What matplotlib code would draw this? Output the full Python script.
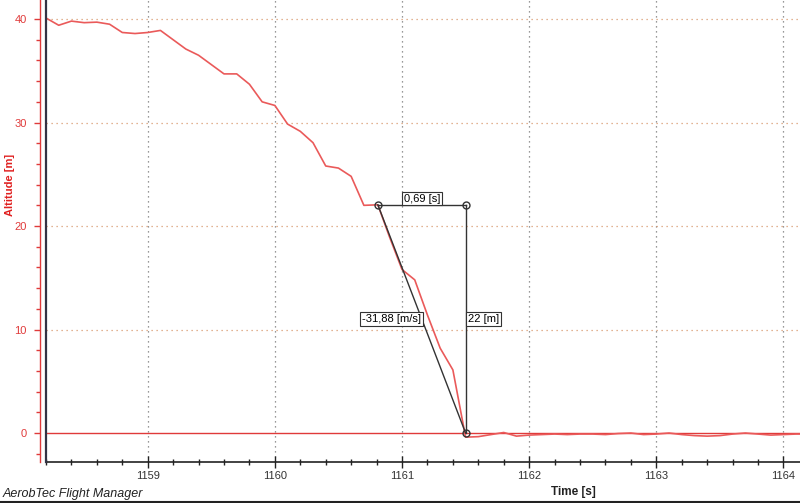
import matplotlib
matplotlib.use("Agg")
import matplotlib.pyplot as plt
from matplotlib.ticker import MultipleLocator, FixedLocator

plt.rcParams['font.family'] = ['Liberation Sans', 'DejaVu Sans']

time_s = [1158.2, 1158.3, 1158.4, 1158.5, 1158.6, 1158.7, 1158.8, 1158.9,
          1159.0, 1159.1, 1159.2, 1159.3, 1159.4, 1159.5, 1159.6, 1159.7,
          1159.8, 1159.9, 1160.0, 1160.1, 1160.2, 1160.3, 1160.4, 1160.5,
          1160.6, 1160.7, 1160.81, 1160.9, 1161.0, 1161.1, 1161.2, 1161.3,
          1161.4, 1161.5, 1161.6, 1161.7, 1161.8, 1161.9, 1162.0, 1162.1,
          1162.2, 1162.3, 1162.4, 1162.5, 1162.6, 1162.7, 1162.8, 1162.9,
          1163.0, 1163.1, 1163.2, 1163.3, 1163.4, 1163.5, 1163.6, 1163.7,
          1163.8, 1163.9, 1164.0, 1164.1, 1164.2]
altitude_m = [40.1, 39.4, 39.8, 39.65, 39.7, 39.5, 38.7, 38.6,
              38.7, 38.9, 38.0, 37.1, 36.5, 35.6, 34.7, 34.7,
              33.7, 32.0, 31.65, 29.85, 29.15, 28.05, 25.8, 25.6,
              24.8, 22.0, 22.05, 19.0, 15.8, 14.8, 11.4, 8.2,
              6.1, -0.4, -0.35, -0.15, 0.05, -0.3, -0.2, -0.15,
              -0.1, -0.15, -0.1, -0.1, -0.15, -0.05, 0.0, -0.15,
              -0.1, 0.0, -0.15, -0.25, -0.3, -0.25, -0.1, 0.0,
              -0.1, -0.2, -0.15, -0.1, -0.1]

# measurement annotation points
meas_t = [1160.81, 1161.5]
meas_alt = [22.05, 0.0]
label_dt = "0,69 [s]"
label_rate = "-31,88 [m/s]"
label_dh = "22 [m]"

x_ticks = [1159, 1160, 1161, 1162, 1163, 1164]
y_ticks = [0, 10, 20, 30, 40]

W, H = 800, 503
fig = plt.figure(figsize=(W / 100, H / 100), dpi=100)
ax = fig.add_axes([46 / W, (H - 462) / H, (800 - 46) / W, 462 / H])
ax.set_xlim(1158.2, 1164.13)
ax.set_ylim(-2.8, 41.84)

red = '#e03a3a'
ax.axhline(0, color='#e03a3a', lw=1.0, zorder=2)
ax.plot(time_s, altitude_m, color='#ea5a5a', lw=1.2, zorder=3)

# grid
for xt in x_ticks:
    ax.axvline(xt, color='#777777', lw=0.9, ls=(0, (1, 3)), zorder=1)
for yt in y_ticks:
    if yt != 0:
        ax.axhline(yt, color='#d99a70', lw=0.9, ls=(0, (1, 3)), zorder=1)

# measurement lines
t0, t1 = meas_t
a0, a1 = meas_alt
ax.plot([t0, t1], [a0, a0], color='#333333', lw=1.0, zorder=4)
ax.plot([t1, t1], [a0, a1], color='#333333', lw=1.0, zorder=4)
ax.plot([t0, t1], [a0, a1], color='#333333', lw=1.0, zorder=4)
ax.plot([t0, t1, t1], [a0, a0, a1], 'o', ms=5, mfc='none', mec='#333333',
        mew=1.0, zorder=5)

bbox = dict(boxstyle='square,pad=0.15', fc='white', ec='#333333', lw=0.8)
ax.text((t0 + t1) / 2, a0 + 0.1, label_dt, ha='center', va='bottom',
        fontsize=8, bbox=bbox, zorder=6)
ax.text((t0 + t1) / 2 - 0.005, (a0 + a1) / 2, label_rate, ha='right', va='center',
        fontsize=8, bbox=bbox, zorder=6)
ax.text(t1 + 0.02, (a0 + a1) / 2, label_dh, ha='left', va='center',
        fontsize=8, bbox=bbox, zorder=6)

# axes styling
ax.spines['top'].set_visible(False)
ax.spines['right'].set_visible(False)
ax.spines['left'].set_position(('outward', 4))
ax.spines['left'].set_color(red)
ax.spines['left'].set_linewidth(1.0)
ax.spines['bottom'].set_color('#222222')
ax.spines['bottom'].set_linewidth(1.2)
ax.axvline(1158.2, color='#333344', lw=1.6, zorder=6, clip_on=False)

ax.xaxis.set_major_locator(FixedLocator(x_ticks))
ax.xaxis.set_minor_locator(MultipleLocator(0.2))
ax.yaxis.set_major_locator(FixedLocator(y_ticks))
ax.yaxis.set_minor_locator(MultipleLocator(2))
ax.set_xticklabels([str(v) for v in x_ticks])
ax.set_yticklabels([str(v) for v in y_ticks])

ax.tick_params(axis='x', which='major', direction='inout', length=9, width=1.0,
               color='#222222', labelsize=8, labelcolor='#333333', pad=2)
ax.tick_params(axis='x', which='minor', direction='inout', length=5, width=1.0,
               color='#222222')
ax.tick_params(axis='y', which='major', direction='out', length=4, width=1.0,
               color=red, labelsize=8, labelcolor=red, pad=6)
ax.tick_params(axis='y', which='minor', direction='out', length=3, width=1.0,
               color=red)

fig.text(10 / W, 1 - 185 / H, 'Altitude [m]', rotation=90, ha='center',
         va='center', color='#e02020', fontsize=8, fontweight='bold')
fig.text(573 / W, 1 - 492 / H, 'Time [s]', ha='center', va='center',
         color='#222222', fontsize=8.5, fontweight='bold')
fig.text(3 / W, 1 - 494 / H, 'AerobTec Flight Manager', ha='left', va='center',
         color='#222222', fontsize=9, style='italic')
fig.add_artist(plt.Line2D([0, 1], [1.5 / H, 1.5 / H], color='#222222', lw=1.5,
                          transform=fig.transFigure))

fig.savefig('out.png', dpi=100)
